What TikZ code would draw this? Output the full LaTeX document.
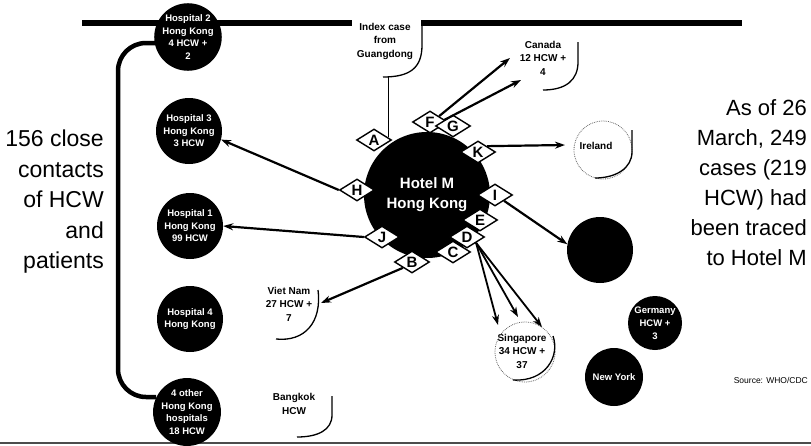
\documentclass[tikz,border=0pt]{standalone}
\usepackage{fontspec}
\setmainfont{Liberation Sans}
\usetikzlibrary{shapes.geometric,arrows.meta}
\begin{document}
\begin{tikzpicture}[x=1pt,y=-1pt,
  hosp/.style={circle,fill=black,minimum size=66pt,inner sep=0pt,text=white,align=center,font=\fontsize{9.5}{12.5}\selectfont\bfseries},
  blob/.style={circle,fill=black,inner sep=0pt,text=white,align=center,font=\fontsize{9.5}{13}\selectfont\bfseries},
  ltr/.style={diamond,draw=black,fill=white,line width=1.4pt,aspect=1.6,inner sep=0pt,minimum width=35pt,minimum height=22pt,font=\fontsize{15}{15}\selectfont\bfseries},
  small/.style={align=center,font=\fontsize{10}{13.5}\selectfont\bfseries,inner sep=0pt},
  big/.style={align=right,inner sep=0pt},
  arr/.style={line width=2.2pt,-{Stealth[length=10pt,width=7pt]}},
  bub/.style={line width=1.3pt},
  bar/.style={line width=6pt}]
\path[use as bounding box] (0,0) rectangle (811,445);
% frame lines
\draw[bar] (82,23) -- (352,23);
\draw[bar] (421,23) -- (742,23);
\draw[line width=2pt,black!70] (0,443) -- (811,443);
% bracket
\draw[line width=4.5pt,rounded corners=28pt] (156,43) -- (118,43) -- (118,397) -- (156,397);
% hospitals
\node[hosp] (h2) at (188,37) {Hospital 2\\Hong Kong\\4 HCW +\\2};
\node[hosp] (h3) at (189,131) {Hospital 3\\Hong Kong\\3 HCW};
\node[hosp] (h1) at (190,226) {Hospital 1\\Hong Kong\\99 HCW};
\node[hosp] (h4) at (190,319) {Hospital 4\\Hong Kong};
\node[hosp] (h5) at (187,412) {4 other\\Hong Kong\\hospitals\\18 HCW};
% hotel
\node[blob,minimum size=126pt,font=\fontsize{15}{20}\selectfont\bfseries] (hotel) at (427,195) {Hotel M\\Hong Kong};
% other black circles
\node[blob,minimum size=66pt] (bc) at (600,250) {};
\node[blob,minimum size=54pt] (ger) at (655,323) {Germany\\HCW +\\3};
\node[blob,minimum size=58pt] (ny) at (614,377) {New York};
% bubble labels
\node[small] (idx) at (385,41) {Index case\\from\\Guangdong};
\node[small] (can) at (543,58) {Canada\\12 HCW +\\4};
\node[small] (ire) at (596,146) {Ireland};
\node[small] (sing) at (522,351) {Singapore\\34 HCW +\\37};
\node[small] (viet) at (289,304) {Viet Nam\\27 HCW +\\7};
\node[small] (bkk) at (294,404) {Bangkok\\HCW};
% bubble outlines
\draw[bub] (578,42) -- (578,62) .. controls (578,80) and (566,90) .. (543,90);
\draw[densely dotted,line width=0.8pt,black!60] (603,150) circle[radius=29pt];
\draw[bub] (632,130) -- (632,152) .. controls (632,168) and (616,178) .. (595,178);
\draw[densely dotted,line width=0.8pt,black!60] (525,352) circle[radius=30pt];
\draw[bub] (553,336) .. controls (560,356) and (546,382) .. (513,380);
\draw[bub] (318,290) .. controls (322,322) and (305,342) .. (276,339);
\draw[bub] (332,396) -- (332,415) .. controls (332,430) and (318,437) .. (297,437);
\draw[bub] (383,77) .. controls (410,77) and (422,68) .. (422,45) -- (422,22);
% diamonds
\node[ltr] (A) at (374,140) {A};
\node[ltr] (F) at (430,122) {F};
\node[ltr] (G) at (453,126) {G};
\node[ltr] (K) at (478,152) {K};
\node[ltr] (I) at (495,195) {I};
\node[ltr] (E) at (480,220) {E};
\node[ltr] (D) at (467,237) {D};
\node[ltr] (C) at (453,252) {C};
\node[ltr] (B) at (412,262) {B};
\node[ltr] (J) at (382,237) {J};
\node[ltr] (H) at (357,190) {H};
% free ends
\coordinate (ib) at (0,77);
\coordinate (cant1) at (510,58);
\coordinate (cant2) at (521,80);
\coordinate (iret) at (565,145);
\coordinate (vt) at (321,303);
\coordinate (s1) at (498,325);
\coordinate (s2) at (518,317);
\coordinate (s3) at (542,327);
% connectors
\draw[line width=1pt] (A.10) -- (A.10 |- ib);
\draw[arr] (F.north east) -- (cant1);
\draw[arr] (G.north west) -- (cant2);
\draw[arr] (K.north east) -- (iret);
\draw[arr] (I.south east) -- (bc.170);
\draw[arr] (H.west) -- (h3.-15);
\draw[arr] (J.west) -- (h1.east);
\draw[arr] (B.south west) -- (vt);
\draw[arr,line width=1.8pt] (D.south east) -- (s1);
\draw[arr,line width=1.8pt] (D.south east) -- (s2);
\draw[arr,line width=1.8pt] (D.south east) -- (s3);
% texts
\node[big,anchor=north east,font=\fontsize{23}{30.5}\selectfont] (lefttext) at (104,130) {156 close\\contacts\\of HCW\\and\\patients};
\node[big,anchor=north east,font=\fontsize{22}{30}\selectfont] (righttext) at (807,99) {As of 26\\March, 249\\cases (219\\HCW) had\\been traced\\to Hotel M};
\node[anchor=east,inner sep=0pt,font=\fontsize{8.5}{10}\selectfont] (src) at (808,380) {Source: WHO/CDC};
\end{tikzpicture}
\end{document}
